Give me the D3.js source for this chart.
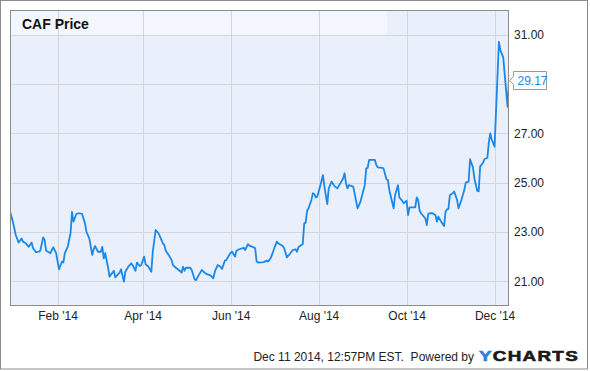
<!DOCTYPE html>
<html>
<head>
<meta charset="utf-8">
<script src="https://cdn.jsdelivr.net/npm/d3@7"></script>
<style>
  html, body { margin: 0; padding: 0; background: #fff; }
  svg { display: block; font-family: Arial, "Liberation Sans", sans-serif; }
</style>
</head>
<body>
<svg id="chart" width="590" height="371"></svg>
<script>
const title = "CAF Price";
const dates = [
"2013-12-30","2014-01-01","2014-01-03","2014-01-05","2014-01-07","2014-01-08","2014-01-10","2014-01-12","2014-01-14","2014-01-15",
"2014-01-17","2014-01-19","2014-01-20","2014-01-22","2014-01-23","2014-01-24","2014-01-26","2014-01-27","2014-01-28","2014-01-29",
"2014-01-31","2014-02-01","2014-02-02","2014-02-04","2014-02-05","2014-02-06","2014-02-08","2014-02-10","2014-02-11","2014-02-12",
"2014-02-14","2014-02-16","2014-02-18","2014-02-20","2014-02-21","2014-02-23","2014-02-25","2014-02-26","2014-02-27","2014-03-01",
"2014-03-03","2014-03-04","2014-03-05","2014-03-06","2014-03-08","2014-03-09","2014-03-12","2014-03-13","2014-03-16","2014-03-17",
"2014-03-19","2014-03-20","2014-03-22","2014-03-24","2014-03-25","2014-03-27","2014-03-28","2014-03-30","2014-03-31","2014-04-02",
"2014-04-03","2014-04-05","2014-04-07","2014-04-08","2014-04-10","2014-04-12","2014-04-13","2014-04-15","2014-04-16","2014-04-17",
"2014-04-19","2014-04-20","2014-04-21","2014-04-22","2014-04-24","2014-04-26","2014-04-28","2014-04-29","2014-04-30","2014-05-01",
"2014-05-04","2014-05-05","2014-05-07","2014-05-08","2014-05-10","2014-05-12","2014-05-13","2014-05-15","2014-05-16","2014-05-18",
"2014-05-20","2014-05-21","2014-05-23","2014-05-25","2014-05-26","2014-05-28","2014-05-29","2014-05-30","2014-06-01","2014-06-02",
"2014-06-04","2014-06-05","2014-06-07","2014-06-10","2014-06-11","2014-06-13","2014-06-14","2014-06-17","2014-06-18","2014-06-19",
"2014-06-20","2014-06-24","2014-06-26","2014-06-27","2014-06-29","2014-07-01","2014-07-03","2014-07-04","2014-07-07","2014-07-08",
"2014-07-10","2014-07-12","2014-07-14","2014-07-16","2014-07-17","2014-07-18","2014-07-20","2014-07-21","2014-07-22","2014-07-23",
"2014-07-24","2014-07-25","2014-07-27","2014-07-28","2014-07-29","2014-07-30","2014-07-31","2014-08-02","2014-08-04","2014-08-05",
"2014-08-07","2014-08-08","2014-08-10","2014-08-12","2014-08-14","2014-08-16","2014-08-18","2014-08-19","2014-08-20","2014-08-21",
"2014-08-22","2014-08-24","2014-08-25","2014-08-28","2014-08-30","2014-09-02","2014-09-03","2014-09-04","2014-09-05","2014-09-07",
"2014-09-09","2014-09-10","2014-09-11","2014-09-14","2014-09-15","2014-09-17","2014-09-18","2014-09-19","2014-09-22","2014-09-23",
"2014-09-25","2014-09-26","2014-09-28","2014-09-29","2014-10-01","2014-10-02","2014-10-03","2014-10-06","2014-10-07","2014-10-08",
"2014-10-09","2014-10-10","2014-10-11","2014-10-13","2014-10-14","2014-10-15","2014-10-16","2014-10-17","2014-10-19","2014-10-21",
"2014-10-22","2014-10-23","2014-10-25","2014-10-27","2014-10-28","2014-10-29","2014-10-30","2014-10-31","2014-11-02","2014-11-03",
"2014-11-05","2014-11-06","2014-11-08","2014-11-10","2014-11-11","2014-11-13","2014-11-14","2014-11-16","2014-11-17","2014-11-19",
"2014-11-20","2014-11-21","2014-11-23","2014-11-24","2014-11-26","2014-11-27","2014-11-28","2014-11-29","2014-12-01","2014-12-04",
"2014-12-05","2014-12-07","2014-12-10","2014-12-11"
];
const prices = [
23.83,23.42,22.88,22.57,22.74,22.61,22.54,22.40,22.57,22.34,
22.18,22.20,22.24,22.78,22.68,22.24,22.18,22.14,22.27,22.38,
22.14,21.80,21.49,21.80,21.76,22.14,22.40,22.95,23.82,23.42,
23.73,23.76,23.73,23.35,23.01,22.74,22.07,22.30,22.43,22.20,
22.20,22.40,21.93,22.14,21.56,21.19,21.43,21.16,21.35,21.49,
20.99,21.39,21.59,21.73,21.66,21.43,21.76,21.62,21.66,22.00,
21.70,21.59,21.39,22.20,23.08,22.95,22.81,22.54,22.47,22.24,
22.07,21.97,21.86,21.66,21.55,21.46,21.35,21.59,21.43,21.55,
21.55,21.46,21.08,21.05,21.26,21.46,21.40,21.30,21.28,21.24,
21.12,21.39,21.66,21.59,21.50,21.84,21.86,21.97,22.16,22.20,
22.00,22.24,22.30,22.36,22.27,22.51,22.45,22.38,22.34,21.80,
21.76,21.78,21.84,21.80,21.97,22.30,22.61,22.54,22.43,22.36,
21.97,22.11,22.27,22.30,22.20,22.38,22.47,22.51,23.35,23.38,
23.86,23.96,24.30,24.57,24.54,24.40,24.43,24.84,25.31,24.84,
24.13,24.77,25.04,24.86,24.77,24.97,25.17,25.38,24.97,24.77,
24.90,24.86,24.84,23.96,24.23,24.90,25.58,25.60,25.92,25.92,
25.92,25.72,25.62,25.60,25.58,25.14,25.11,24.70,23.96,24.50,
24.90,24.40,24.26,24.16,24.27,23.69,24.00,24.00,24.00,24.40,
24.30,23.87,23.76,23.62,23.55,23.28,23.73,23.76,23.76,23.69,
23.42,23.62,23.42,23.24,23.82,23.92,23.94,24.50,24.57,24.64,
24.30,23.96,24.30,24.70,25.00,25.04,25.95,25.62,25.17,24.67,
24.65,25.65,25.81,25.96,26.00,26.62,27.00,26.75,26.46,30.71,
30.37,30.08,28.07,29.17
];
const yTicks = [21, 23, 25, 27, 29, 31];
const yLabelTicks = [21, 23, 25, 27, 31];
const xTicks = ["2014-02-01","2014-04-01","2014-06-01","2014-08-01","2014-10-01","2014-12-01"];
const lastLabel = "29.17";
const footerText = "Dec 11 2014, 12:57PM EST.  Powered by";
const logoY = "Y";
const logoRest = "CHARTS";

const parse = d3.timeParse("%Y-%m-%d");
const data = dates.map((d, i) => ({ date: parse(d), value: prices[i] }));

const svg = d3.select("#chart");
const L = 10, R = 509, T = 10, B = 306;

const x = d3.scaleTime()
  .domain([parse(dates[0]), parse(dates[dates.length - 1])])
  .range([L, R]);
const y = d3.scaleLinear().domain([20, 32]).range([B, T]);

// outer border
svg.append("rect").attr("x", 0.5).attr("y", 0.5).attr("width", 587).attr("height", 368.5)
  .attr("fill", "#fff").attr("stroke", "#8c8c8c");

// plot background
svg.append("rect").attr("x", L).attr("y", T).attr("width", R - L).attr("height", B - T)
  .attr("fill", "#e9f0fb");
// title band
svg.append("rect").attr("x", L).attr("y", T).attr("width", 377).attr("height", y(31) - T)
  .attr("fill", "#f3f7fd");

// grid
const grid = svg.append("g").attr("stroke", "#d4d6da").attr("stroke-width", 1);
xTicks.forEach(t => {
  const xx = Math.round(x(parse(t))) + 0.5;
  grid.append("line").attr("x1", xx).attr("x2", xx).attr("y1", T).attr("y2", B);
});
yTicks.forEach(t => {
  const yy = Math.round(y(t)) + 0.5;
  grid.append("line").attr("x1", L).attr("x2", R).attr("y1", yy).attr("y2", yy);
});

// line
svg.append("clipPath").attr("id", "clip").append("rect")
  .attr("x", L).attr("y", T).attr("width", R - L).attr("height", B - T);
const line = d3.line().x(d => x(d.date)).y(d => y(d.value));
svg.append("path").datum(data)
  .attr("clip-path", "url(#clip)")
  .attr("fill", "none").attr("stroke", "#1a88e8").attr("stroke-width", 1.8)
  .attr("stroke-linejoin", "round")
  .attr("d", line);

// plot border
svg.append("rect").attr("x", L + 0.5).attr("y", T + 0.5).attr("width", R - L - 1).attr("height", B - T - 1)
  .attr("fill", "none").attr("stroke", "#8c8c8c");

// title
svg.append("text").attr("x", 22).attr("y", 29).attr("font-size", 14).attr("font-weight", "bold")
  .attr("fill", "#111").text(title);

// y axis labels (right); the 29.00 label is hidden behind the last-value tag in the reference
const yAxis = d3.axisRight(y).tickValues(yLabelTicks).tickFormat(d3.format(".2f")).tickSize(0).tickPadding(5);
const yg = svg.append("g").attr("transform", `translate(${R},0)`).call(yAxis);
yg.select(".domain").remove();
yg.selectAll("text").attr("font-size", 12).attr("fill", "#222").attr("font-family", "Arial, 'Liberation Sans', sans-serif");

// x axis labels
const xAxis = d3.axisBottom(x).tickValues(xTicks.map(parse)).tickFormat(d3.timeFormat("%b '%y")).tickSize(0).tickPadding(5);
const xg = svg.append("g").attr("transform", `translate(0,${B})`).call(xAxis);
xg.select(".domain").remove();
xg.selectAll("text").attr("font-size", 12).attr("fill", "#222").attr("font-family", "Arial, 'Liberation Sans', sans-serif");

// last value tag
const last = data[data.length - 1];
const ty = Math.round(y(last.value)) + 0.5;
const tx = R + 0.5;
const tag = svg.append("g");
tag.append("path")
  .attr("d", `M${tx},${ty} L${tx + 4},${ty - 4} L${tx + 4},${ty - 9} L${tx + 37},${ty - 9} L${tx + 37},${ty + 9} L${tx + 4},${ty + 9} L${tx + 4},${ty + 4} Z`)
  .attr("fill", "#fff").attr("stroke", "#999");
tag.append("text").attr("x", tx + 8).attr("y", ty + 4.5).attr("font-size", 12)
  .attr("fill", "#1a88e8").text(lastLabel);

// footer
svg.append("text").attr("x", 474).attr("y", 361).attr("text-anchor", "end")
  .attr("font-size", 12).attr("fill", "#222").text(footerText).style("white-space", "pre");
const logo = svg.append("text").attr("x", 479).attr("y", 361)
  .attr("font-size", 14.5).attr("font-weight", "bold").attr("letter-spacing", 1)
  .attr("stroke-width", 0.6).attr("textLength", 100).attr("lengthAdjust", "spacingAndGlyphs");
logo.append("tspan").attr("fill", "#2f7fdc").attr("stroke", "#2f7fdc").text(logoY);
logo.append("tspan").attr("fill", "#1a1a1a").attr("stroke", "#1a1a1a").text(logoRest);
</script>
</body>
</html>
